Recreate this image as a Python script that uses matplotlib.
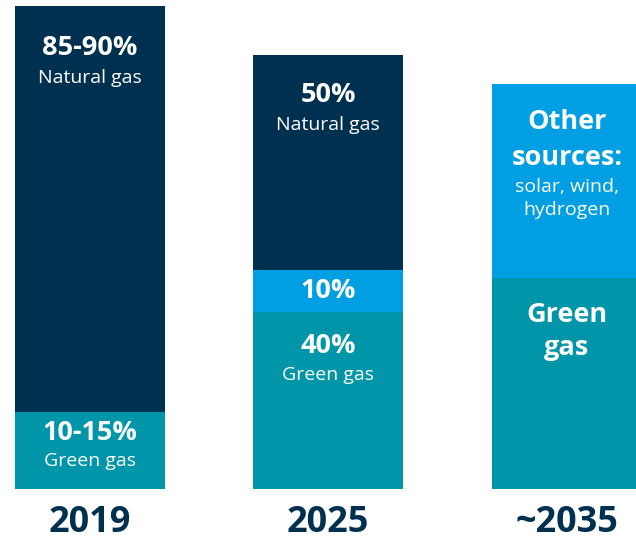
import matplotlib
matplotlib.use("Agg")
import matplotlib.pyplot as plt

years = ["2019", "2025", "~2035"]
# segment heights (relative units)
green_gas = [77, 177, 211]
other_sources = [0, 42, 194]
natural_gas = [406, 215, 0]

NAVY = "#00304F"
TEAL = "#0095A8"
LIGHT = "#009EE2"

fig = plt.figure(figsize=(6.36, 5.42), dpi=100)
ax = fig.add_axes([0, 0, 1, 1])
ax.set_xlim(0, 636)
ax.set_ylim(-53, 489)
ax.axis("off")

xs = [90, 328, 567]
w = 150
ax.bar(xs, green_gas, width=w, color=TEAL)
ax.bar(xs, other_sources, width=w, bottom=green_gas, color=LIGHT)
bottom_nat = [g + o for g, o in zip(green_gas, other_sources)]
ax.bar(xs, natural_gas, width=w, bottom=bottom_nat, color=NAVY)

FONT = "Open Sans"
def big(x, y, s, size=19.5):
    ax.text(x, y, s, ha="center", va="center", color="white", fontsize=size,
            fontweight="bold", family=FONT)
def small(x, y, s, size=14):
    ax.text(x, y, s, ha="center", va="center", color="white", fontsize=size,
            family=FONT)

# 2019
top = bottom_nat[0] + natural_gas[0]
big(xs[0], top - 42, "85-90%")
small(xs[0], top - 72, "Natural gas")
top = green_gas[0]
big(xs[0], top - 21, "10-15%")
small(xs[0], top - 49, "Green gas")

# 2025
top = bottom_nat[1] + natural_gas[1]
big(xs[1], top - 40, "50%")
small(xs[1], top - 70, "Natural gas")
big(xs[1], green_gas[1] + other_sources[1] / 2, "10%")
top = green_gas[1]
big(xs[1], top - 34, "40%")
small(xs[1], top - 63, "Green gas")

# ~2035
top = green_gas[2] + other_sources[2]
big(xs[2], top - 38, "Other")
big(xs[2], top - 74, "sources:")
small(xs[2], top - 103, "solar, wind,")
small(xs[2], top - 126, "hydrogen")
top = green_gas[2]
big(xs[2], top - 37, "Green")
big(xs[2], top - 70, "gas")

for x, yr in zip(xs, years):
    ax.text(x, -52, yr, ha="center", va="bottom", color=NAVY, fontsize=26,
            fontweight="bold", family=FONT)

fig.savefig("out.png", dpi=100)
